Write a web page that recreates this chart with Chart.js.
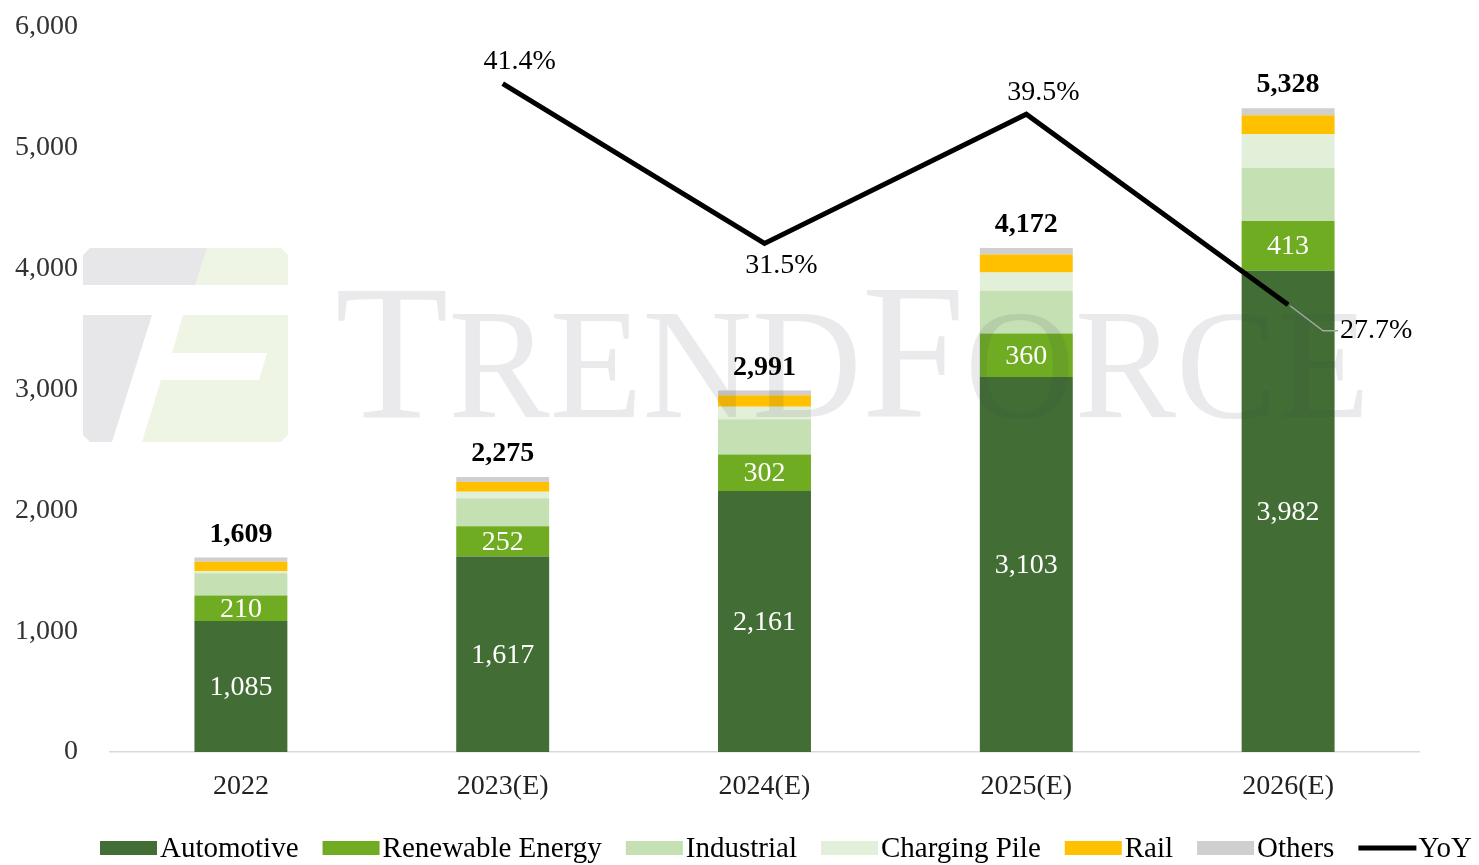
<!DOCTYPE html>
<html>
<head>
<meta charset="utf-8">
<script src="https://cdn.jsdelivr.net/npm/chart.js@4.4.0/dist/chart.umd.min.js"></script>
<style>
html, body { margin: 0; padding: 0; background: #fff; }
#wrap { width: 1479px; height: 865px; position: relative; }
</style>
</head>
<body>
<div id="wrap"><canvas id="chart"></canvas></div>
<script>
// Data
const years = ['2022', '2023(E)', '2024(E)', '2025(E)', '2026(E)'];
const automotive = [1085, 1617, 2161, 3103, 3982];
const renewable = [210, 252, 302, 360, 413];
const industrial = [185, 230, 290, 355, 440];
const chargingPile = [15, 55, 105, 150, 280];
const rail = [80, 80, 95, 150, 155];
const others = [34, 41, 38, 54, 58];
const totals = [1609, 2275, 2991, 4172, 5328];
const yoy = [null, 41.4, 31.5, 39.5, 27.7];
const yTicks = [0, 1000, 2000, 3000, 4000, 5000, 6000];

const SERIF = '"Liberation Serif", "Times New Roman", serif';
const fmt = v => v.toLocaleString('en-US');

// Watermark (logo + text), drawn over bars with transparency
const watermark = {
    id: 'watermark',
    afterDatasetsDraw(chart) {
        const ctx = chart.ctx;
        ctx.save();
        // logo
        ctx.fillStyle = 'rgba(60,60,80,0.12)';
        ctx.beginPath();
        ctx.moveTo(90, 248); ctx.lineTo(207, 248); ctx.lineTo(195, 285); ctx.lineTo(83, 285); ctx.lineTo(83, 255);
        ctx.closePath(); ctx.fill();
        ctx.beginPath();
        ctx.moveTo(83, 315); ctx.lineTo(152, 315); ctx.lineTo(112, 442); ctx.lineTo(90, 442); ctx.lineTo(83, 435);
        ctx.closePath(); ctx.fill();
        ctx.fillStyle = 'rgba(112,173,36,0.12)';
        ctx.beginPath();
        ctx.moveTo(207, 248); ctx.lineTo(281, 248); ctx.lineTo(288, 255); ctx.lineTo(288, 285); ctx.lineTo(195, 285);
        ctx.closePath(); ctx.fill();
        ctx.beginPath();
        ctx.moveTo(183, 315); ctx.lineTo(288, 315); ctx.lineTo(288, 435); ctx.lineTo(281, 442); ctx.lineTo(142, 442);
        ctx.lineTo(161, 380); ctx.lineTo(259, 380); ctx.lineTo(267, 353); ctx.lineTo(172, 353);
        ctx.closePath(); ctx.fill();
        // text in small caps
        ctx.fillStyle = 'rgba(60,60,80,0.11)';
        const parts = [['T', 192], ['REND', 157], ['F', 192], ['ORCE', 157]];
        let w = 0;
        parts.forEach(p => { ctx.font = p[1] + 'px ' + SERIF; w += ctx.measureText(p[0]).width; });
        const sx = (1370 - 335) / w;
        ctx.translate(335, 417);
        ctx.scale(sx, 1);
        ctx.textBaseline = 'alphabetic';
        ctx.textAlign = 'left';
        let x = 0;
        parts.forEach(p => {
            ctx.font = p[1] + 'px ' + SERIF;
            ctx.fillText(p[0], x, 0);
            x += ctx.measureText(p[0]).width;
        });
        ctx.restore();
    }
};

// Value labels and YoY labels
const valueLabels = {
    id: 'valueLabels',
    afterDraw(chart) {
        const ctx = chart.ctx;
        ctx.save();
        ctx.textAlign = 'center';
        ctx.textBaseline = 'middle';
        // white labels inside automotive and renewable segments
        [0, 1].forEach(di => {
            const meta = chart.getDatasetMeta(di);
            meta.data.forEach((bar, i) => {
                ctx.font = '28px ' + SERIF;
                ctx.fillStyle = '#ffffff';
                ctx.fillText(fmt(chart.data.datasets[di].data[i]), bar.x, (bar.y + bar.base) / 2 + 1);
            });
        });
        // totals
        const topMeta = chart.getDatasetMeta(5);
        topMeta.data.forEach((bar, i) => {
            ctx.font = 'bold 28px ' + SERIF;
            ctx.fillStyle = '#000000';
            ctx.textBaseline = 'bottom';
            ctx.fillText(fmt(totals[i]), bar.x, bar.y - 9);
        });
        // YoY labels
        const lineMeta = chart.getDatasetMeta(6);
        ctx.font = '28px ' + SERIF;
        ctx.fillStyle = '#000000';
        ctx.textBaseline = 'middle';
        lineMeta.data.forEach((pt, i) => {
            if (yoy[i] === null) return;
            const txt = yoy[i].toFixed(1) + '%';
            if (i === yoy.length - 1) {
                ctx.strokeStyle = '#a6a6a6';
                ctx.lineWidth = 1.5;
                ctx.beginPath();
                ctx.moveTo(pt.x + 2, pt.y + 1);
                ctx.lineTo(pt.x + 35, pt.y + 26);
                ctx.lineTo(pt.x + 50, pt.y + 26);
                ctx.stroke();
                ctx.textAlign = 'left';
                ctx.fillText(txt, pt.x + 52, pt.y + 26);
                ctx.textAlign = 'center';
            } else {
                const prev = yoy[i - 1], next = yoy[i + 1];
                const isLow = (prev === null || prev > yoy[i]) && (next === undefined || next > yoy[i]);
                ctx.fillText(txt, pt.x + 17, isLow ? pt.y + 22 : pt.y - 22);
            }
        });
        ctx.restore();
    }
};

// Legend drawn along the bottom
const bottomLegend = {
    id: 'bottomLegend',
    afterDraw(chart) {
        const ctx = chart.ctx;
        ctx.save();
        ctx.font = '29px ' + SERIF;
        ctx.textBaseline = 'middle';
        ctx.textAlign = 'left';
        const cy = 848;
        let x = 100;
        chart.data.datasets.forEach(ds => {
            if (ds.type === 'line') {
                ctx.strokeStyle = '#000';
                ctx.lineWidth = 5;
                ctx.beginPath();
                ctx.moveTo(x, cy);
                ctx.lineTo(x + 58, cy);
                ctx.stroke();
            } else {
                ctx.fillStyle = ds.backgroundColor;
                ctx.fillRect(x, cy - 7, 57, 14);
            }
            x += 60;
            ctx.fillStyle = '#000';
            ctx.fillText(ds.label, x, cy + 1);
            x += ctx.measureText(ds.label).width + 24;
        });
        ctx.restore();
    }
};

function barSet(label, data, color) {
    return {
        type: 'bar',
        label: label,
        data: data,
        backgroundColor: color,
        borderWidth: 0,
        barPercentage: 0.355,
        categoryPercentage: 1,
        stack: 'total',
        order: 2
    };
}

new Chart(document.getElementById('chart'), {
    data: {
        labels: years,
        datasets: [
            barSet('Automotive', automotive, '#426d34'),
            barSet('Renewable Energy', renewable, '#6fac22'),
            barSet('Industrial', industrial, '#c5e0b3'),
            barSet('Charging Pile', chargingPile, '#e2efd9'),
            barSet('Rail', rail, '#ffc000'),
            barSet('Others', others, '#d0cece'),
            {
                type: 'line',
                label: 'YoY',
                data: yoy,
                yAxisID: 'y2',
                borderColor: '#000000',
                borderWidth: 5,
                pointRadius: 0,
                fill: false,
                tension: 0,
                order: 1
            }
        ]
    },
    options: {
        responsive: true,
        maintainAspectRatio: false,
        animation: false,
        layout: { padding: { top: 27, right: 60, left: 0, bottom: 0 } },
        plugins: {
            legend: { display: false },
            tooltip: { enabled: false }
        },
        scales: {
            x: {
                stacked: true,
                grid: { display: false },
                border: { display: true, color: '#d9d9d9', width: 1.5 },
                ticks: { font: { family: SERIF, size: 28 }, color: '#222', padding: 10 },
                afterFit: s => { s.height = 113; s.paddingLeft = 0; s.paddingRight = 0; }
            },
            y: {
                stacked: true,
                min: 0,
                max: 6000,
                grid: { display: false },
                border: { display: false },
                afterBuildTicks: s => { s.ticks = yTicks.map(v => ({ value: v })); },
                ticks: {
                    font: { family: SERIF, size: 28 },
                    color: '#333',
                    padding: 24,
                    callback: v => fmt(v)
                },
                afterFit: s => { s.width = 110; s.paddingTop = 0; s.paddingBottom = 0; }
            },
            y2: {
                display: false,
                stacked: false,
                min: 0,
                max: 44.9
            }
        }
    },
    plugins: [watermark, valueLabels, bottomLegend]
});
</script>
</body>
</html>
